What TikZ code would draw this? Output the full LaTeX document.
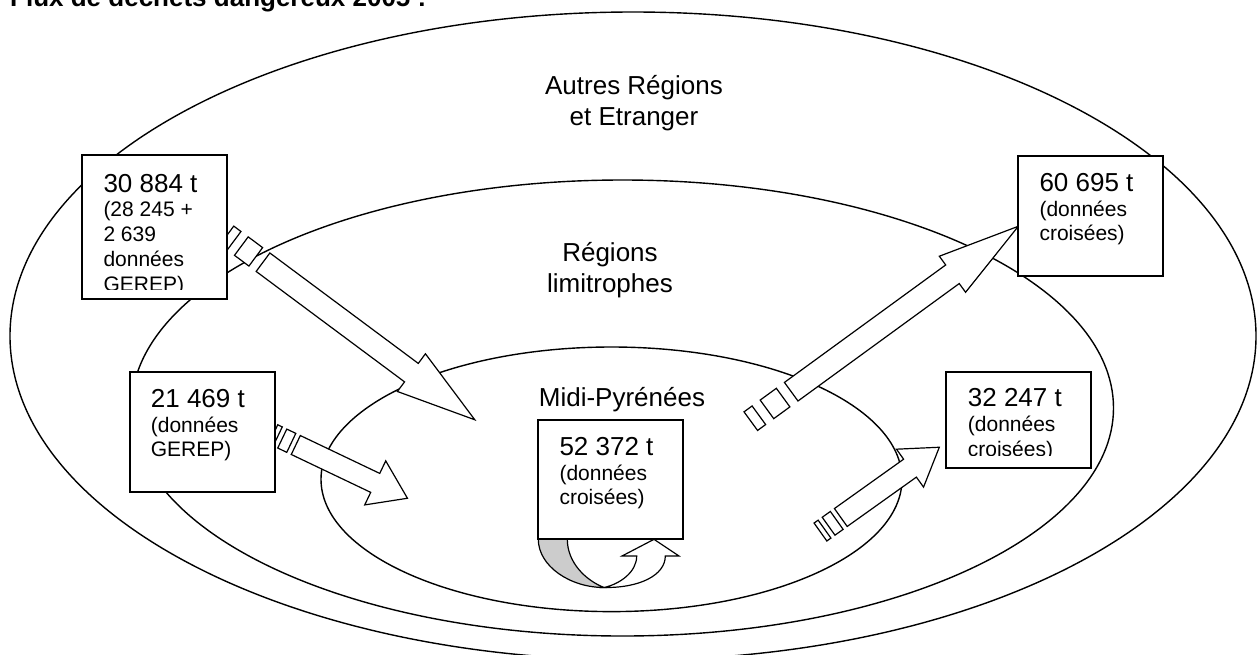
\documentclass[tikz,border=0pt]{standalone}
\usepackage{fontspec}
\setmainfont{Liberation Sans}
\usetikzlibrary{shapes.geometric}
\newcommand{\BigT}{\fontsize{26}{31}\selectfont}
\newcommand{\SmT}{\fontsize{21}{25}\selectfont}
% striped block arrow: #1 tail centre, #2 rotation, #3 shaft half width,
% #4 head start, #5 head half width, #6 tip, #7 stripe unit
\newcommand{\sarrow}[7]{%
  \begin{scope}[shift={#1}, rotate=#2]
    \filldraw[arrowshape] (0,-#3) -- (#4,-#3) -- (#4,-#5) -- (#6,0) -- (#4,#5) -- (#4,#3) -- (0,#3) -- cycle;
    \filldraw[arrowshape] (-3*#7,-#3) rectangle (-#7,#3);
    \filldraw[arrowshape] (-5*#7,-#3) rectangle (-4*#7,#3);
  \end{scope}}
\tikzset{
  ell/.style={draw, ellipse, line width=1.4pt, inner sep=0pt},
  box/.style={draw, rectangle, line width=1.8pt, fill=white, inner sep=0pt, outer sep=0pt, anchor=north west},
  arrowshape/.style={draw, fill=white, line width=1.2pt, line join=miter},
  bigtxt/.style={anchor=base west, inner sep=0pt, font=\BigT},
  smalltxt/.style={anchor=base west, inner sep=0pt, font=\SmT},
  lbl/.style={anchor=base, inner sep=0pt, font=\BigT},
  titletxt/.style={anchor=base west, inner sep=0pt, font=\BigT\bfseries}
}
\begin{document}
\begin{tikzpicture}[x=1pt,y=-1pt]
\useasboundingbox (0,0) rectangle (1257,654);
\clip (0,0) rectangle (1257,654);
\fill[white] (0,0) rectangle (1257,654);

% ellipses
\node[ell, minimum width=1246pt, minimum height=648pt] (outer) at (633,336) {};
\node[ell, minimum width=982pt, minimum height=456pt] (middle) at (622.5,408) {};
\node[ell, minimum width=581pt, minimum height=264.6pt] (inner) at (611.5,479.3) {};

% title (cut at top, as in the reference)
\node[titletxt] (title) at (10,6) {Flux de déchets dangereux 2005 :};

% zone labels
\node[lbl] (autres1) at (634,94.3) {Autres Régions};
\node[lbl] (autres2) at (634,125) {et Etranger};
\node[lbl] (lim1) at (610,261) {Régions};
\node[lbl] (lim2) at (610,292) {limitrophes};
\node[lbl] (midi) at (622,406) {Midi-Pyrénées};

% striped block arrows
\sarrow{(263,262.2)}{-36.65}{11.5}{185}{23.5}{264}{9}
\sarrow{(295.8,445)}{-25.5}{10.5}{88}{24.4}{123.7}{5}
\sarrow{(791.2,391.7)}{36.07}{11.5}{199.5}{22.3}{281}{10}
\sarrow{(840.8,517.5)}{35.5}{11}{85}{23.3}{121}{5}

% boxes
\node[box, minimum width=144.7pt, minimum height=144.3pt] (b1) at (82,155) {};
\node[box, minimum width=145pt, minimum height=120.3pt] (b2) at (130,372) {};
\node[box, minimum width=144.4pt, minimum height=119.3pt] (b3) at (538.3,420) {};
\node[box, minimum width=144.4pt, minimum height=120pt] (b4) at (1018.3,156) {};
\node[box, minimum width=145pt, minimum height=95.7pt] (b5) at (946,372) {};

% box texts
\begin{scope}
  \clip (b1.north west) rectangle ([yshift=10pt]b1.south east);
  \node[bigtxt] (b1a) at (103.3,192.3) {30 884 t};
  \node[smalltxt] (b1b) at (103.3,216) {(28 245 +};
  \node[smalltxt] (b1c) at (103.3,241.7) {2 639};
  \node[smalltxt] (b1d) at (103.3,266.7) {données};
  \node[smalltxt] (b1e) at (103.3,291.7) {GEREP)};
\end{scope}
\node[bigtxt] (b2a) at (150.7,407.3) {21 469 t};
\node[smalltxt] (b2b) at (150.7,432.7) {(données};
\node[smalltxt] (b2c) at (150.7,456.7) {GEREP)};
\node[bigtxt] (b3a) at (559.3,455) {52 372 t};
\node[smalltxt] (b3b) at (559.3,480) {(données};
\node[smalltxt] (b3c) at (559.3,504) {croisées)};
\node[bigtxt] (b4a) at (1039.3,191.7) {60 695 t};
\node[smalltxt] (b4b) at (1039.3,216.7) {(données};
\node[smalltxt] (b4c) at (1039.3,240.7) {croisées)};
\begin{scope}
  \clip (b5.north west) rectangle ([yshift=12pt]b5.south east);
  \node[bigtxt] (b5a) at (967.7,406.7) {32 247 t};
  \node[smalltxt] (b5b) at (967.7,431.7) {(données};
  \node[smalltxt] (b5c) at (967.7,456.7) {croisées)};
\end{scope}

% curved-up arrow under Midi-Pyrenees box
\filldraw[arrowshape, fill=black!20] (b3.south west) .. controls (538.3,566) and (570,587.5) .. (604,587.5)
  .. controls (585,580) and (567.3,562) .. (567.3,539.3) -- cycle;
\filldraw[arrowshape] (604,587.5) .. controls (640,588) and (665.3,575) .. (665.3,556)
  -- (679,556) -- (654,539.3) -- (622,556) -- (636.7,556)
  .. controls (636.7,572) and (620,584) .. (604,587.5) -- cycle;
\end{tikzpicture}
\end{document}
